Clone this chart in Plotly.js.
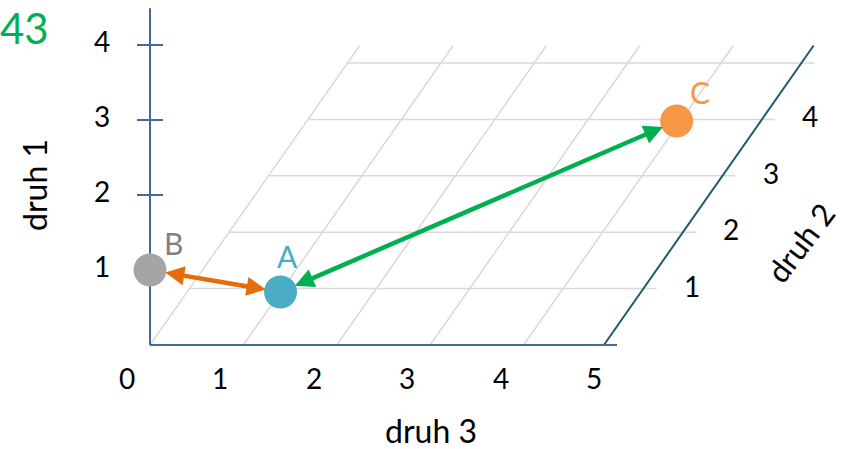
<!DOCTYPE html>
<html><head><meta charset="utf-8">
<script src="https://cdn.plot.ly/plotly-3.0.1.min.js"></script>
<style>html,body{margin:0;padding:0;background:#fff}#chart{width:844px;height:449px}</style>
</head><body><div id="chart"></div>
<script>
// ---- data ----
const druh3Ticks = [0, 1, 2, 3, 4, 5];
const druh2Ticks = [1, 2, 3, 4];
const druh1Ticks = [1, 2, 3, 4];
const druh2Grid = [1, 2, 3, 4, 5];
const druh3Grid = [0, 1, 2, 3, 4];
const pointNames = ['A', 'B', 'C'];
const druh3Vals = [1.0, 0.0, 3.96];
const druh2Vals = [0.94, 0.0, 3.97];
const druh1Vals = [0.0, 1.0, 0.0];
const arrowFrom = ['B', 'A'];
const arrowTo = ['A', 'C'];
const slideNumber = '43';

// ---- styles / projection ----
const pointColors = ['#4BACC6', '#A5A5A5', '#F79646'];
const labelColors = ['#4BACC6', '#7F7F7F', '#F79646'];
const labelShift = [[7, 36], [23, 27], [23, 29]];
const arrowColors = ['#E46C0A', '#00B050'];
const KX = 0.4229, KY = 0.752;   // oblique offset per unit of druh 2
const D2MAX = 5.31, D1MAX = 4.49, AX2 = 4.86, D3MAX = 5;
const FONT = 'Lato, Carlito, Calibri, sans-serif';
const px = (d3, d2) => d3 + KX * d2;
const py = (d1, d2) => d1 + KY * d2;

const traces = [];
let gx = [], gy = [];
druh3Grid.forEach(v => { gx.push(px(v, 0), px(v, D2MAX), null); gy.push(py(0, 0), py(0, D2MAX), null); });
druh2Grid.forEach(v => { gx.push(px(0, v), px(D3MAX, v), null); gy.push(py(0, v), py(0, v), null); });
traces.push({x: gx, y: gy, mode: 'lines', line: {color: '#D9D9D9', width: 1.5}, hoverinfo: 'skip'});
traces.push({x: [px(AX2, 0), px(AX2, D2MAX)], y: [py(0, 0), py(0, D2MAX)], mode: 'lines', line: {color: '#215B6A', width: 2}, hoverinfo: 'skip'});
let ax = [0, 0, null, 0, D3MAX, null], ay = [0, D1MAX, null, 0, 0, null];
druh1Ticks.forEach(v => { ax.push(-0.139, 0.139, null); ay.push(v, v, null); });
traces.push({x: ax, y: ay, mode: 'lines', line: {color: '#44679E', width: 2}, hoverinfo: 'skip'});
traces.push({
  x: pointNames.map((n, i) => px(druh3Vals[i], druh2Vals[i])),
  y: pointNames.map((n, i) => py(druh1Vals[i], druh2Vals[i])),
  mode: 'markers', marker: {size: 33, color: pointColors, line: {width: 0}}, hoverinfo: 'skip'
});

const ann = [];
const idx = n => pointNames.indexOf(n);
arrowFrom.forEach((f, k) => {
  const a = idx(f), b = idx(arrowTo[k]);
  ann.push({
    x: px(druh3Vals[b], druh2Vals[b]), y: py(druh1Vals[b], druh2Vals[b]),
    ax: px(druh3Vals[a], druh2Vals[a]), ay: py(druh1Vals[a], druh2Vals[a]),
    xref: 'x', yref: 'y', axref: 'x', ayref: 'y', text: '', showarrow: true,
    arrowside: 'end+start', arrowhead: 2, startarrowhead: 2,
    arrowsize: 0.85, startarrowsize: 0.85, arrowwidth: 4.5, arrowcolor: arrowColors[k],
    standoff: 15, startstandoff: 14
  });
});
pointNames.forEach((n, i) => ann.push({
  x: px(druh3Vals[i], druh2Vals[i]), y: py(druh1Vals[i], druh2Vals[i]),
  xref: 'x', yref: 'y', text: n, showarrow: false, xshift: labelShift[i][0], yshift: labelShift[i][1],
  xanchor: 'center', yanchor: 'middle',
  font: {family: FONT, size: 30, color: labelColors[i]}
}));
const tickFont = {family: FONT, size: 28, color: '#000'};
const tk = (x, y, t) => ({x, y, xref: 'x', yref: 'y', text: t, showarrow: false, xanchor: 'center', yanchor: 'middle', font: tickFont});
druh1Ticks.forEach(v => ann.push(tk(-0.514, v + 0.05, String(v))));
druh3Ticks.forEach(v => ann.push(tk(v - 0.246, -0.44, String(v))));
druh2Ticks.forEach(v => ann.push(tk(px(D3MAX + 0.375, v), py(0.04, v), String(v))));
const titleFont = {family: FONT, size: 32, color: '#000'};
const pt = (x, y, t, ang, font) => ({x: x / 844, y: 1 - y / 449, xref: 'paper', yref: 'paper', text: t, textangle: ang, showarrow: false, xanchor: 'center', yanchor: 'middle', font});
ann.push(pt(431, 430, 'druh 3', 0, titleFont));
ann.push(pt(34, 185, 'druh 1', -90, titleFont));
ann.push(pt(800, 243, 'druh 2', -53, {family: FONT, size: 31, color: '#000'}));
ann.push(pt(24, 28, slideNumber, 0, {family: FONT, size: 42, color: '#00B050'}));

const layout = {
  width: 844, height: 449, margin: {l: 0, r: 0, t: 0, b: 0},
  paper_bgcolor: '#fff', plot_bgcolor: '#fff', showlegend: false,
  xaxis: {range: [-150 / 93.4, 694 / 93.4], visible: false, fixedrange: true},
  yaxis: {range: [-104 / 75, 345 / 75], visible: false, fixedrange: true},
  annotations: ann
};
Plotly.newPlot('chart', traces, layout, {staticPlot: true, displayModeBar: false});
</script></body></html>
